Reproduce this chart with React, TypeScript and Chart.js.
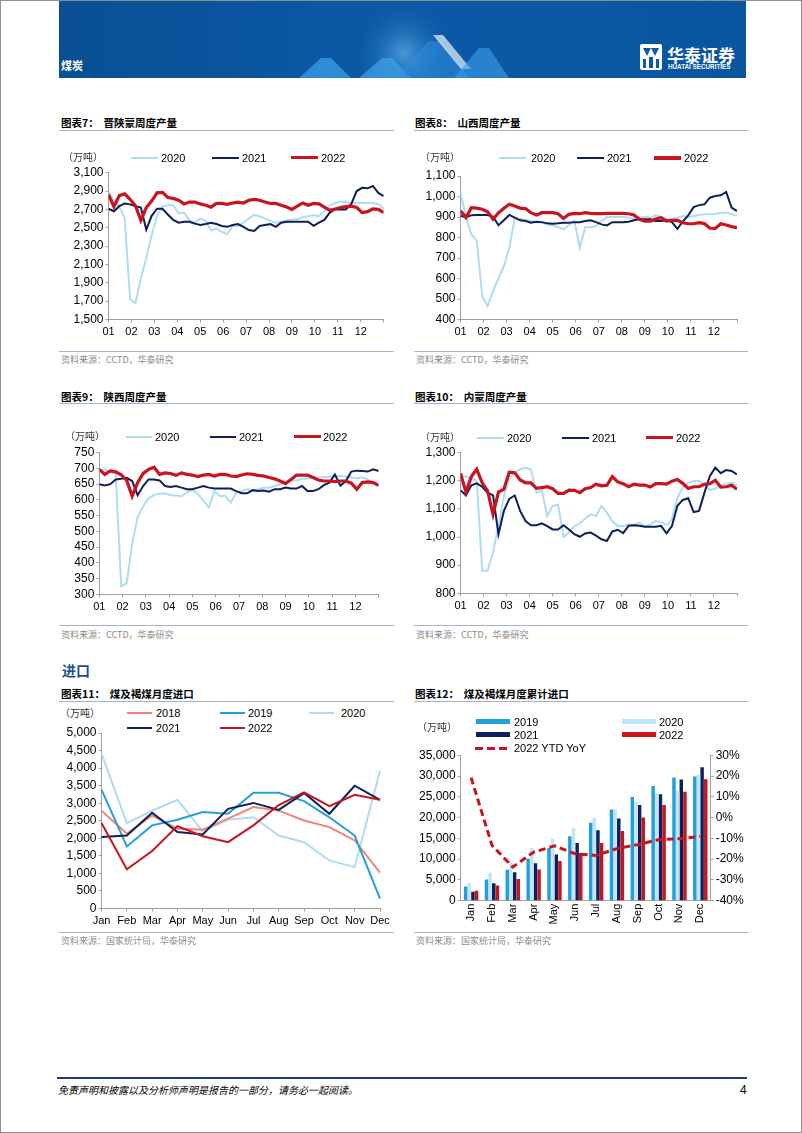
import React, { useEffect, useRef } from "react";
import { Chart, registerables } from "chart.js";

Chart.register(...registerables);

// ---------- tick labels ----------
const monthTicks = ["01", "02", "03", "04", "05", "06", "07", "08", "09", "10", "11", "12"];
const importMonths = ["Jan", "Feb", "Mar", "Apr", "May", "Jun", "Jul", "Aug", "Sep", "Oct", "Nov", "Dec"];

// ---------- 图表7 晋陕蒙周度产量 (万吨) ----------
const jsm2020 = [2900, 2790, 2735, 2600, 1720, 1680, 1950, 2170, 2420, 2630, 2730, 2745, 2745, 2655, 2665, 2580, 2555, 2600, 2575, 2470, 2490, 2455, 2430, 2520, 2520, 2555, 2600, 2640, 2625, 2600, 2575, 2555, 2565, 2580, 2590, 2590, 2615, 2625, 2635, 2625, 2680, 2740, 2770, 2785, 2780, 2765, 2770, 2770, 2770, 2770, 2760, 2710];
const jsm2021 = [2707, 2680, 2735, 2765, 2755, 2735, 2720, 2480, 2630, 2707, 2707, 2645, 2585, 2555, 2565, 2565, 2545, 2530, 2540, 2555, 2540, 2520, 2510, 2530, 2540, 2510, 2475, 2465, 2520, 2530, 2540, 2510, 2555, 2565, 2565, 2565, 2565, 2565, 2520, 2555, 2585, 2665, 2700, 2700, 2700, 2760, 2900, 2935, 2930, 2955, 2880, 2845];
const jsm2022 = [2860, 2730, 2850, 2870, 2810, 2740, 2580, 2720, 2790, 2880, 2885, 2830, 2820, 2800, 2760, 2780, 2780, 2760, 2745, 2725, 2765, 2765, 2755, 2770, 2780, 2770, 2800, 2810, 2800, 2780, 2765, 2765, 2745, 2725, 2700, 2735, 2770, 2745, 2765, 2760, 2725, 2690, 2705, 2720, 2730, 2735, 2720, 2665, 2675, 2705, 2700, 2665];

// ---------- 图表8 山西周度产量 ----------
const sx2020 = [1020, 900, 815, 785, 515, 465, 540, 600, 660, 750, 893, 890, 885, 880, 875, 872, 865, 860, 850, 840, 860, 880, 750, 850, 851, 855, 880, 900, 900, 900, 900, 897, 893, 897, 900, 897, 908, 900, 889, 893, 897, 905, 900, 905, 910, 913, 913, 915, 921, 921, 915, 905];
const sx2021 = [905, 900, 908, 910, 910, 910, 902, 860, 884, 910, 897, 884, 880, 872, 877, 875, 869, 867, 869, 872, 872, 875, 875, 880, 884, 875, 864, 859, 875, 875, 875, 877, 884, 889, 889, 889, 880, 880, 884, 875, 842, 878, 908, 948, 958, 962, 994, 1002, 1006, 1022, 946, 929];
const sx2022 = [930, 897, 945, 943, 938, 926, 889, 920, 943, 962, 954, 943, 941, 921, 910, 921, 921, 921, 916, 893, 913, 918, 916, 921, 918, 916, 916, 918, 918, 918, 918, 916, 910, 889, 880, 880, 890, 897, 880, 884, 884, 872, 867, 867, 872, 868, 845, 844, 867, 861, 853, 848];

// ---------- 图表9 陕西周度产量 ----------
const shx2020 = [690, 697, 690, 680, 325, 335, 460, 545, 580, 605, 616, 620, 620, 615, 614, 612, 624, 633, 618, 597, 576, 628, 612, 612, 592, 623, 628, 634, 631, 634, 639, 639, 644, 650, 655, 662, 662, 667, 667, 671, 671, 673, 673, 676, 676, 674, 671, 668, 672, 665, 652, 645];
const shx2021 = [650, 646, 650, 665, 667, 670, 660, 615, 644, 665, 665, 662, 644, 641, 644, 639, 634, 634, 639, 644, 639, 636, 636, 636, 636, 628, 621, 621, 631, 628, 630, 626, 634, 634, 639, 636, 636, 644, 628, 628, 634, 647, 655, 681, 645, 660, 690, 693, 692, 690, 697, 692];
const shx2022 = [697, 681, 692, 689, 680, 662, 612, 655, 684, 697, 704, 681, 686, 684, 678, 686, 681, 679, 674, 679, 681, 676, 681, 681, 676, 674, 679, 683, 681, 678, 676, 671, 667, 660, 652, 665, 679, 679, 679, 671, 663, 660, 660, 658, 660, 660, 653, 634, 655, 657, 655, 646];

// ---------- 图表10 内蒙周度产量 ----------
const nm2020 = [1215, 1215, 1210, 1200, 880, 880, 946, 1039, 1146, 1205, 1229, 1241, 1247, 1240, 1158, 1165, 1075, 1110, 1116, 1000, 1016, 1039, 1049, 1065, 1081, 1075, 1110, 1087, 1057, 1039, 1039, 1045, 1042, 1051, 1039, 1045, 1057, 1054, 1042, 1063, 1140, 1176, 1193, 1199, 1199, 1188, 1167, 1172, 1184, 1190, 1193, 1184];
const nm2021 = [1167, 1148, 1184, 1191, 1179, 1158, 1148, 1010, 1093, 1136, 1148, 1093, 1057, 1042, 1042, 1049, 1039, 1027, 1027, 1042, 1027, 1010, 1001, 1013, 1016, 1005, 992, 986, 1020, 1026, 1014, 1040, 1042, 1040, 1037, 1037, 1037, 1040, 1013, 1039, 1111, 1132, 1138, 1089, 1093, 1158, 1217, 1247, 1227, 1238, 1235, 1223];
const nm2022 = [1227, 1160, 1215, 1241, 1193, 1164, 1081, 1160, 1170, 1231, 1229, 1203, 1193, 1193, 1173, 1176, 1179, 1172, 1155, 1155, 1167, 1166, 1158, 1172, 1176, 1188, 1182, 1184, 1215, 1196, 1190, 1179, 1188, 1185, 1185, 1178, 1190, 1190, 1188, 1199, 1205, 1191, 1173, 1179, 1179, 1188, 1190, 1202, 1178, 1179, 1184, 1170];

// ---------- 图表11 煤及褐煤月度进口 ----------
const imp2018 = [2790, 2130, 2650, 2270, 2245, 2560, 2890, 2790, 2510, 2320, 1940, 1020];
const imp2019 = [3390, 1770, 2370, 2530, 2750, 2700, 3300, 3300, 3060, 2600, 2080, 280];
const imp2020 = [4420, 2430, 2790, 3100, 2200, 2530, 2600, 2080, 1890, 1370, 1180, 3930];
const imp2021 = [2040, 2080, 2730, 2180, 2110, 2840, 3010, 2810, 3290, 2700, 3500, 3100];
const imp2022 = [2440, 1120, 1640, 2350, 2060, 1890, 2370, 2950, 3310, 2920, 3240, 3100];

// ---------- 图表12 煤及褐煤月度累计进口 ----------
const cum2019 = [3400, 5090, 7440, 10100, 12690, 15520, 18750, 21990, 24980, 27640, 29670, 29910];
const cum2020 = [4280, 6710, 9460, 12690, 14950, 17540, 19970, 21990, 23850, 25870, 26500, 30400];
const cum2021 = [2180, 4200, 6870, 9050, 11150, 13900, 16970, 19800, 23040, 25630, 29180, 32170];
const cum2022 = [2420, 3640, 5250, 7520, 9540, 11480, 13900, 16810, 20050, 23040, 26270, 29260];
const yoy2022 = [19.3, -13.3, -23.8, -16.6, -13.6, -17.4, -18.2, -14.9, -13.0, -10.6, -10.1, -9.0];

// ---------- styles ----------
const C2018 = "#f2837b";
const C2019 = "#21a0dc";
const C2020 = "#aedcf2";
const C2021 = "#0f1f5c";
const C2022 = "#c8141e";
const B2020 = "#c2e5f6";
const AXIS = "#a0a0a0";
const NUMF = '"Liberation Sans", Arial, sans-serif';
const CJK = '"Noto Sans CJK SC", "Noto Sans", sans-serif';
const X_FONT = { family: NUMF, size: 11 };
const Y_FONT = { family: NUMF, size: 12 };

type Area = { left: number; top: number; width: number; height: number; l: number; t: number; r: number; b: number };

const A7: Area = { left: 58, top: 158, width: 335, height: 190, l: 107.5, t: 171.7, r: 382.7, b: 318.5 };
const A8: Area = { left: 413, top: 158, width: 335, height: 190, l: 459.5, t: 175, r: 736, b: 318.5 };
const A9: Area = { left: 58, top: 436, width: 335, height: 185, l: 98.3, t: 451.7, r: 377.7, b: 593.3 };
const A10: Area = { left: 413, top: 436, width: 335, height: 185, l: 459.5, t: 451.7, r: 736, b: 592.3 };
const A11: Area = { left: 58, top: 720, width: 335, height: 212, l: 100.5, t: 732.1, r: 379, b: 907.5 };
const A12: Area = { left: 413, top: 740, width: 335, height: 192, l: 459.7, t: 754.4, r: 709.7, b: 899.7 };

const fmt = (v: any) => Number(v).toLocaleString("en-US");

function axisY(area: Area, min: number, max: number, step: number, cb: (v: any) => string, pos = "left") {
  return {
    position: pos,
    min,
    max,
    ticks: { stepSize: step, autoSkip: false, maxTicksLimit: 50, padding: 2, color: "#000", font: Y_FONT, callback: cb },
    grid: { drawOnChartArea: false, drawTicks: true, tickLength: 3, color: AXIS },
    border: { display: true, color: AXIS, width: 1 },
    afterFit: (s: any) => {
      s.width = pos === "left" ? area.l - area.left : area.left + area.width - area.r;
    },
  };
}

function weeklyConfig(area: Area, yMin: number, yMax: number, yStep: number, s20: number[], s21: number[], s22: number[]) {
  const toPts = (arr: number[]) => arr.map((v, i) => ({ x: (i * 12) / (arr.length - 1), y: v }));
  return {
    type: "line",
    data: {
      datasets: [
        { label: "2022", data: toPts(s22), borderColor: C2022, borderWidth: 3.2, pointRadius: 0, tension: 0, order: 1 },
        { label: "2021", data: toPts(s21), borderColor: C2021, borderWidth: 2, pointRadius: 0, tension: 0, order: 2 },
        { label: "2020", data: toPts(s20), borderColor: C2020, borderWidth: 2, pointRadius: 0, tension: 0, order: 3 },
      ],
    },
    options: {
      animation: false,
      responsive: false,
      events: [],
      layout: { padding: { left: 0, top: area.t - area.top, right: area.left + area.width - area.r, bottom: 0 } },
      plugins: { legend: { display: false }, tooltip: { enabled: false } },
      scales: {
        x: {
          type: "linear",
          min: 0,
          max: 12,
          ticks: {
            stepSize: 1,
            autoSkip: false,
            maxRotation: 0,
            padding: 3,
            color: "#000",
            font: X_FONT,
            callback: (v: any) => monthTicks[v] ?? "",
          },
          grid: { drawOnChartArea: false, drawTicks: true, tickLength: 3, color: AXIS },
          border: { display: true, color: AXIS, width: 1 },
          afterFit: (s: any) => {
            s.height = area.top + area.height - area.b;
          },
        },
        y: axisY(area, yMin, yMax, yStep, fmt),
      },
    },
  };
}

function monthlyConfig(area: Area) {
  const ds = (label: string, data: number[], color: string, order: number) => ({
    label,
    data,
    borderColor: color,
    borderWidth: 2,
    pointRadius: 0,
    tension: 0,
    order,
  });
  return {
    type: "line",
    data: {
      labels: importMonths,
      datasets: [
        ds("2022", imp2022, C2022, 1),
        ds("2021", imp2021, C2021, 2),
        ds("2020", imp2020, C2020, 5),
        ds("2019", imp2019, C2019, 3),
        ds("2018", imp2018, C2018, 4),
      ],
    },
    options: {
      animation: false,
      responsive: false,
      events: [],
      layout: { padding: { left: 0, top: area.t - area.top, right: area.left + area.width - area.r, bottom: 0 } },
      plugins: { legend: { display: false }, tooltip: { enabled: false } },
      scales: {
        x: {
          offset: false,
          ticks: { autoSkip: false, maxRotation: 0, padding: 3, color: "#000", font: X_FONT },
          grid: { drawOnChartArea: false, drawTicks: true, tickLength: 3, color: AXIS, offset: false },
          border: { display: true, color: AXIS, width: 1 },
          afterFit: (s: any) => {
            s.height = area.top + area.height - area.b;
          },
        },
        y: axisY(area, 0, 5000, 500, fmt),
      },
    },
  };
}

function cumConfig(area: Area) {
  const bar = (label: string, data: number[], color: string) => ({
    type: "bar",
    label,
    data,
    backgroundColor: color,
    borderWidth: 0,
    categoryPercentage: 0.7,
    barPercentage: 0.95,
    yAxisID: "y",
    order: 2,
  });
  return {
    type: "bar",
    data: {
      labels: importMonths,
      datasets: [
        {
          type: "line",
          label: "2022 YTD YoY",
          data: yoy2022,
          borderColor: C2022,
          borderWidth: 3,
          borderDash: [7, 4],
          pointRadius: 0,
          tension: 0,
          yAxisID: "y1",
          order: 1,
        },
        bar("2019", cum2019, C2019),
        bar("2020", cum2020, B2020),
        bar("2021", cum2021, C2021),
        bar("2022", cum2022, C2022),
      ],
    },
    options: {
      animation: false,
      responsive: false,
      events: [],
      layout: { padding: { left: 0, top: area.t - area.top, right: 0, bottom: 0 } },
      plugins: { legend: { display: false }, tooltip: { enabled: false } },
      scales: {
        x: {
          ticks: { autoSkip: false, minRotation: 90, maxRotation: 90, padding: 3, color: "#000", font: X_FONT },
          grid: { drawOnChartArea: false, drawTicks: false, color: AXIS },
          border: { display: true, color: AXIS, width: 1 },
          afterFit: (s: any) => {
            s.height = area.top + area.height - area.b;
          },
        },
        y: axisY(area, 0, 35000, 5000, fmt),
        y1: axisY(area, -40, 30, 10, (v: any) => `${v}%`, "right"),
      },
    },
  };
}

// ---------- small HTML helpers ----------
function T(props: { x: number; y: number; children: any; size?: number; color?: string; bold?: boolean; family?: string; italic?: boolean }) {
  return (
    <div
      style={{
        position: "absolute",
        left: props.x,
        top: props.y,
        transform: "translateY(-50%)",
        whiteSpace: "nowrap",
        lineHeight: 1,
        fontSize: props.size ?? 11,
        color: props.color ?? "#000",
        fontWeight: props.bold ? 700 : 400,
        fontStyle: props.italic ? "italic" : "normal",
        fontFamily: props.family ?? NUMF,
        zIndex: 2,
      }}
    >
      {props.children}
    </div>
  );
}

function HLine(props: { x1: number; x2: number; y: number; color: string; h?: number }) {
  const h = props.h ?? 1;
  return (
    <div
      style={{
        position: "absolute",
        left: props.x1,
        top: props.y - h / 2,
        width: props.x2 - props.x1,
        height: h,
        background: props.color,
        zIndex: 2,
      }}
    />
  );
}

function LegItem(props: { x1: number; x2: number; tx: number; y: number; color: string; h: number; label: string; dashed?: boolean }) {
  return (
    <>
      {props.dashed ? (
        <div
          style={{
            position: "absolute",
            left: props.x1,
            top: props.y - props.h / 2,
            width: props.x2 - props.x1,
            height: props.h,
            zIndex: 2,
            background: `repeating-linear-gradient(90deg, ${props.color} 0 8px, transparent 8px 12px)`,
          }}
        />
      ) : (
        <HLine x1={props.x1} x2={props.x2} y={props.y} color={props.color} h={props.h} />
      )}
      <T x={props.tx} y={props.y}>
        {props.label}
      </T>
    </>
  );
}

function WeeklyLegend(props: { y: number; unitX: number; items: number[][] }) {
  const cols = [C2020, C2021, C2022];
  const hs = [2, 2, 3.5];
  return (
    <>
      <T x={props.unitX} y={props.y - 1} size={10} family={CJK} color="#333">
        （万吨）
      </T>
      {props.items.map((it, i) => (
        <LegItem key={i} x1={it[0]} x2={it[1]} tx={it[2]} y={props.y} color={cols[i]} h={hs[i]} label={["2020", "2021", "2022"][i]} />
      ))}
    </>
  );
}

const TITLE_LINE = "#9fb6d3";

export default function App() {
  const refs = [useRef<HTMLCanvasElement>(null), useRef<HTMLCanvasElement>(null), useRef<HTMLCanvasElement>(null), useRef<HTMLCanvasElement>(null), useRef<HTMLCanvasElement>(null), useRef<HTMLCanvasElement>(null)];

  useEffect(() => {
    const cfgs: any[] = [
      weeklyConfig(A7, 1500, 3100, 200, jsm2020, jsm2021, jsm2022),
      weeklyConfig(A8, 400, 1100, 100, sx2020, sx2021, sx2022),
      weeklyConfig(A9, 300, 750, 50, shx2020, shx2021, shx2022),
      weeklyConfig(A10, 800, 1300, 100, nm2020, nm2021, nm2022),
      monthlyConfig(A11),
      cumConfig(A12),
    ];
    const charts = cfgs.map((cfg, i) => new Chart(refs[i].current as HTMLCanvasElement, cfg));
    return () => charts.forEach((c) => c.destroy());
  }, []);

  const areas = [A7, A8, A9, A10, A11, A12];

  return (
    <div
      style={{
        position: "absolute",
        left: 0,
        top: 0,
        width: 802,
        height: 1133,
        boxSizing: "border-box",
        border: "1px solid #8f8f8f",
        background: "#fff",
        overflow: "hidden",
        fontFamily: NUMF,
      }}
    >
      {/* header banner */}
      <svg width={687} height={77} style={{ position: "absolute", left: 58, top: 0 }}>
        <defs>
          <linearGradient id="bg" x1="0" x2="1" y1="0" y2="0">
            <stop offset="0" stopColor="#0a4f95" />
            <stop offset="0.5" stopColor="#0b5aa7" />
            <stop offset="1" stopColor="#0a559f" />
          </linearGradient>
          <radialGradient id="glow" cx="0.5" cy="0.5" r="0.5">
            <stop offset="0" stopColor="#7fcaff" stopOpacity="0.55" />
            <stop offset="1" stopColor="#0b5aa7" stopOpacity="0" />
          </radialGradient>
        </defs>
        <rect x={0} y={0} width={687} height={77} fill="url(#bg)" />
        <circle cx={345} cy={52} r={52} fill="url(#glow)" />
        <polygon points="240,77 262,57 272,57 292,77" fill="#3a9de8" opacity={0.75} />
        <polygon points="300,77 323,57 333,57 352,77" fill="#3fa4ec" opacity={0.7} />
        <polygon points="335,77 370,40 382,40 410,77" fill="#2f8fe0" opacity={0.55} />
        <polygon points="374,34 384,34 412,68 402,68" fill="#dbe9f7" opacity={0.75} />
        <polygon points="395,77 420,47 430,47 450,77" fill="#3aa0ea" opacity={0.6} />
        <rect x={581} y={43} width={22} height={26} rx={2} fill="#fff" />
        <polygon points="584,47 592,47 588,55" fill="#0b5aa7" />
        <polygon points="592,47 600,47 596,55" fill="#0b5aa7" />
        <rect x={584} y={58} width={3} height={9} fill="#0b5aa7" />
        <rect x={590} y={56} width={4} height={11} fill="#0b5aa7" />
        <rect x={597} y={58} width={3} height={9} fill="#0b5aa7" />
      </svg>
      <T x={60} y={64} size={11} color="#fff" bold family={CJK}>
        煤炭
      </T>
      <T x={666} y={53} size={17} color="#fff" bold family={CJK}>
        华泰证券
      </T>
      <T x={667} y={66} size={6.3} color="#fff" bold>
        HUATAI SECURITIES
      </T>

      {areas.map((a, i) => (
        <canvas
          key={i}
          ref={refs[i]}
          width={a.width}
          height={a.height}
          style={{ position: "absolute", left: a.left, top: a.top, width: a.width, height: a.height, zIndex: 1 }}
        />
      ))}

      {/* 图表7 */}
      <T x={60} y={122} size={10.5} bold family={CJK}>
        图表7：&nbsp;&nbsp;晋陕蒙周度产量
      </T>
      <HLine x1={58} x2={393} y={129.5} color={TITLE_LINE} />
      <WeeklyLegend y={156.5} unitX={62} items={[[130, 157, 160], [211, 238, 241], [290, 317, 320]]} />
      <HLine x1={58} x2={393} y={350} color={TITLE_LINE} />
      <T x={60} y={358} size={9} color="#8a8a8a" family={CJK}>
        资料来源：CCTD，华泰研究
      </T>

      {/* 图表8 */}
      <T x={414} y={122} size={10.5} bold family={CJK}>
        图表8：&nbsp;&nbsp;山西周度产量
      </T>
      <HLine x1={413} x2={747} y={129.5} color={TITLE_LINE} />
      <WeeklyLegend y={157} unitX={419} items={[[498, 525, 530], [576, 603, 606], [653, 680, 683]]} />
      <HLine x1={413} x2={747} y={350} color={TITLE_LINE} />
      <T x={415} y={358} size={9} color="#8a8a8a" family={CJK}>
        资料来源：CCTD，华泰研究
      </T>

      {/* 图表9 */}
      <T x={60} y={396} size={10.5} bold family={CJK}>
        图表9：&nbsp;&nbsp;陕西周度产量
      </T>
      <HLine x1={58} x2={393} y={402} color={TITLE_LINE} />
      <WeeklyLegend y={435.5} unitX={64} items={[[125, 151, 154], [209, 235, 238], [293, 320, 322]]} />
      <HLine x1={58} x2={393} y={624} color={TITLE_LINE} />
      <T x={60} y={632.5} size={9} color="#8a8a8a" family={CJK}>
        资料来源：CCTD，华泰研究
      </T>

      {/* 图表10 */}
      <T x={414} y={396} size={10.5} bold family={CJK}>
        图表10：&nbsp;&nbsp;内蒙周度产量
      </T>
      <HLine x1={413} x2={747} y={402} color={TITLE_LINE} />
      <WeeklyLegend y={436.5} unitX={419} items={[[476, 503, 506], [561, 588, 591], [645, 672, 675]]} />
      <HLine x1={413} x2={747} y={624} color={TITLE_LINE} />
      <T x={415} y={632.5} size={9} color="#8a8a8a" family={CJK}>
        资料来源：CCTD，华泰研究
      </T>

      {/* 进口 */}
      <T x={61} y={669} size={14} bold color="#1d4d8f" family={CJK}>
        进口
      </T>

      {/* 图表11 */}
      <T x={60} y={693} size={10.5} bold family={CJK}>
        图表11：&nbsp;&nbsp;煤及褐煤月度进口
      </T>
      <HLine x1={58} x2={393} y={700} color={TITLE_LINE} />
      <T x={59} y={712} size={10} family={CJK} color="#333">
        （万吨）
      </T>
      <LegItem x1={126} x2={151} tx={155} y={712} color={C2018} h={2} label="2018" />
      <LegItem x1={219} x2={244} tx={247} y={712} color={C2019} h={2} label="2019" />
      <LegItem x1={308} x2={333} tx={340} y={712} color={C2020} h={2} label="2020" />
      <LegItem x1={126} x2={151} tx={155} y={727} color={C2021} h={2} label="2021" />
      <LegItem x1={219} x2={244} tx={247} y={727} color={C2022} h={2} label="2022" />
      <HLine x1={58} x2={393} y={931} color={TITLE_LINE} />
      <T x={60} y={939} size={9} color="#8a8a8a" family={CJK}>
        资料来源：国家统计局，华泰研究
      </T>

      {/* 图表12 */}
      <T x={414} y={693} size={10.5} bold family={CJK}>
        图表12：&nbsp;&nbsp;煤及褐煤月度累计进口
      </T>
      <HLine x1={413} x2={747} y={700} color={TITLE_LINE} />
      <T x={416} y={726} size={10} family={CJK} color="#333">
        （万吨）
      </T>
      <LegItem x1={475} x2={509} tx={513} y={720.5} color={C2019} h={5} label="2019" />
      <LegItem x1={621} x2={655} tx={658} y={720.5} color={B2020} h={5} label="2020" />
      <LegItem x1={475} x2={509} tx={513} y={733.5} color={C2021} h={5} label="2021" />
      <LegItem x1={621} x2={655} tx={658} y={733.5} color={C2022} h={5} label="2022" />
      <LegItem x1={474} x2={508} tx={513} y={747} color={C2022} h={3} label="2022 YTD YoY" dashed />
      <HLine x1={413} x2={747} y={931} color={TITLE_LINE} />
      <T x={415} y={939} size={9} color="#8a8a8a" family={CJK}>
        资料来源：国家统计局，华泰研究
      </T>

      {/* footer */}
      <HLine x1={56} x2={746} y={1077} color="#1f3c73" h={2} />
      <T x={57} y={1089} size={10} italic family={CJK}>
        免责声明和披露以及分析师声明是报告的一部分，请务必一起阅读。
      </T>
      <T x={739} y={1089} size={12}>
        4
      </T>
    </div>
  );
}
